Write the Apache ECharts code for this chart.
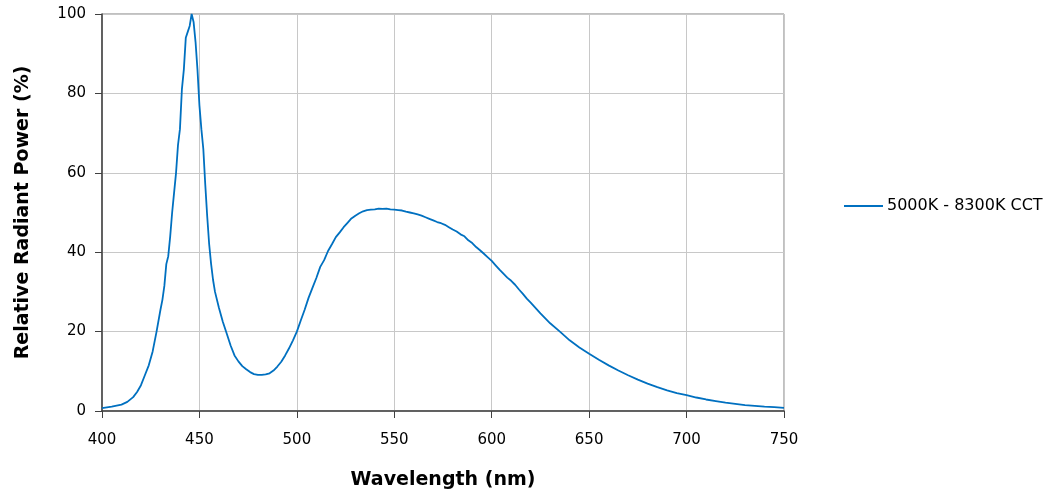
<!DOCTYPE html>
<html><head><meta charset="utf-8">
<script src="https://cdn.jsdelivr.net/npm/echarts@6/dist/echarts.min.js"></script>
<style>html,body{margin:0;padding:0;background:#fff}#c{width:1058px;height:495px}</style>
</head><body><div id="c"></div>
<script>
const seriesName = "5000K - 8300K CCT";
const wavelengths = [400,405,410,413,416,418,420,422,424,426,428,430,431,432,433,434,435,436,437,438,439,440,441,442,443,444,445,446,447,448,449,450,451,452,453,454,455,456,457,458,460,462,464,466,468,470,472,474,476,478,480,482,484,486,488,490,492,494,496,498,500,502,504,506,508,510,512,514,516,518,520,522,524,526,528,530,532,534,536,538,540,542,544,546,548,550,552,554,556,558,560,562,564,566,568,570,572,574,576,578,580,582,584,586,588,590,592,594,596,598,600,602,604,606,608,610,612,614,616,618,620,625,630,635,640,645,650,655,660,665,670,675,680,685,690,695,700,705,710,715,720,725,730,735,740,745,750];
const power = [0.7,1.1,1.6,2.3,3.5,4.8,6.5,9,11.5,15,20,25.5,28,31.5,37,39,44,50,55,60,67,71,81,86,94,95.5,97,100,98,93,86,77,71,66,57,49,42,37,33,30,26,22.5,19.5,16.5,14,12.5,11.3,10.5,9.8,9.3,9.1,9.1,9.2,9.5,10.2,11.2,12.4,14,15.8,17.8,20,22.8,25.5,28.5,31,33.5,36.3,38,40.3,42,43.8,45,46.3,47.4,48.5,49.2,49.8,50.3,50.6,50.7,50.8,51,50.9,51,50.8,50.7,50.6,50.5,50.2,50,49.8,49.5,49.2,48.8,48.4,48,47.6,47.3,46.9,46.3,45.7,45.2,44.5,44,43,42.3,41.3,40.5,39.6,38.7,37.8,36.7,35.6,34.6,33.6,32.8,31.8,30.6,29.5,28.3,27.3,24.6,22.1,20,17.8,16,14.4,12.9,11.5,10.2,9,7.9,6.9,6,5.2,4.5,4,3.4,2.9,2.5,2.1,1.8,1.5,1.3,1.1,1,0.8];
const xTitle = "Wavelength (nm)";
const yTitle = "Relative Radiant Power (%)";

const chart = echarts.init(document.getElementById('c'));
const font = "DejaVu Sans, Verdana, sans-serif";
chart.setOption({
  animation: false,
  textStyle: {fontFamily: font},
  grid: {left: 102, right: 274, top: 14, bottom: 84, show: true, borderColor: '#808080', borderWidth: 1},
  legend: {
    data: [seriesName], left: 844, top: 198, padding: 0, icon: 'rect', itemWidth: 39, itemHeight: 2, itemGap: 5,
    textStyle: {fontFamily: font, fontSize: 16, color: '#000', padding: [0, 0, 0, -1]}
  },
  xAxis: {
    type: 'value', min: 400, max: 750, interval: 50,
    name: xTitle, nameLocation: 'middle', nameGap: 60,
    nameTextStyle: {fontFamily: font, fontSize: 19, fontWeight: 'bold', color: '#000'},
    axisLine: {show: true, lineStyle: {color: '#404040', width: 1.5}},
    axisTick: {show: true, length: 7, lineStyle: {color: '#404040'}},
    axisLabel: {fontFamily: font, fontSize: 15, color: '#000', margin: 22},
    splitLine: {show: true, lineStyle: {color: '#c8c8c8', width: 1}}
  },
  yAxis: {
    type: 'value', min: 0, max: 100, interval: 20,
    name: yTitle, nameLocation: 'middle', nameGap: 69, nameRotate: 90,
    nameTextStyle: {fontFamily: font, fontSize: 19, fontWeight: 'bold', color: '#000'},
    axisLine: {show: true, lineStyle: {color: '#404040', width: 1.5}},
    axisTick: {show: true, length: 7, lineStyle: {color: '#404040'}},
    axisLabel: {fontFamily: font, fontSize: 15, color: '#000', margin: 16},
    splitLine: {show: true, lineStyle: {color: '#c8c8c8', width: 1}}
  },
  series: [{
    name: seriesName, type: 'line', showSymbol: false, symbol: 'none',
    data: wavelengths.map((w, i) => [w, power[i]]),
    lineStyle: {color: '#0070c0', width: 1.8}, itemStyle: {color: '#0070c0'}
  }]
});
</script></body></html>
